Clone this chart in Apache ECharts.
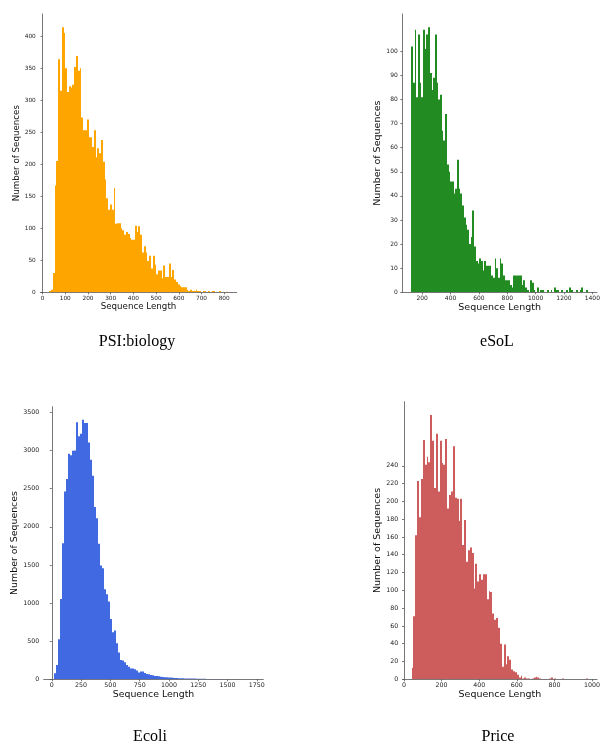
<!DOCTYPE html>
<html>
<head>
<meta charset="utf-8">
<script src="https://cdn.jsdelivr.net/npm/echarts@6/dist/echarts.min.js"></script>
<style>
html,body{margin:0;padding:0;background:#fff;}
#chart{width:603px;height:743px;}
</style>
</head>
<body>
<div id="chart"></div>
<script>
// ---------- DATA ----------
// PSI:biology histogram
const psiBinStart = 29.5;
const psiBinWidth = 7.86;
const psiCounts = [2,4,30,167,205,364,315,414,405,350,
  313,322,320,324,352,369,346,350,273,253,
  253,270,242,242,227,253,211,225,217,238,
  204,176,147,129,137,129,163,107,108,108,
  100,97,90,94,91,85,82,82,104,94,
  103,90,62,72,62,49,57,37,57,43,
  28,34,34,22,42,24,24,45,24,35,
  20,16,12,10,8,8,8,4,2,4,
  2,2,4,2,2,0,2,2,0,2,
  0,2,2,0,0,2,0,0,0,1];
const psiXTicks = [0,100,200,300,400,500,600,700,800];
const psiYTicks = [0,50,100,150,200,250,300,350,400];

// eSoL histogram
const esolBinStart = 122;
const esolBinWidth = 12;
const esolCounts = [102,87,109,81,107,87,81,109,101,107,
  110,91,84,89,107,87,80,82,67,63,
  74,53,50,46,46,41,43,55,43,41,
  36,31,28,26,20,23,34,19,13,12,
  14,13,9,13,11,11,11,7,6,14,
  10,6,14,12,7,5,5,5,3,2,
  7,7,7,7,7,3,5,2,1,0,
  5,4,1,0,2,0,1,1,0,0,
  1,0,1,0,2,1,1,0,1,0,
  0,1,0,2,1,0,0,1,0,1,
  2,0,0,1];
const esolXTicks = [200,400,600,800,1000,1200,1400];
const esolYTicks = [0,10,20,30,40,50,60,70,80,90,100];

// Ecoli histogram
const ecoliBinStart = 15;
const ecoliBinWidth = 17.1;
const ecoliCounts = [79,188,525,1054,1785,2463,2625,2958,2936,2997,
  3000,3369,3185,3220,3404,3360,3360,3106,2879,2669,
  2258,2113,1776,1492,1457,1181,1116,1019,792,617,
  639,472,350,254,245,223,188,166,140,140,
  131,114,88,101,101,83,70,66,57,52,
  44,44,39,35,31,28,26,22,24,20,
  18,17,15,14,13,12,11,10,10,9,
  9,8,7,7,6,6,5,5,5,4,
  4,4,3,3,3,3,2,2,2,2,
  3,2,1,2,1,1,1,1,1,2];
const ecoliXTicks = [0,250,500,750,1000,1250,1500,1750];
const ecoliYTicks = [0,500,1000,1500,2000,2500,3000,3500];

// Price histogram
const priceBinStart = 40;
const priceBinWidth = 10;
const priceCounts = [13,71,162,223,182,225,269,241,250,244,
  297,268,215,276,211,268,243,241,270,192,
  207,211,262,204,203,178,203,151,179,132,
  145,148,142,102,130,110,118,112,118,118,
  90,99,98,74,67,69,58,40,14,39,
  17,26,22,11,9,8,5,2,4,1,
  2,1,1,0,1,2,3,2,1,0,
  0,0,0,1,2,0,1,0,0,0,
  1,0,0,0,0,0,0,0,0,0,
  0,0,0,1,0];
const priceXTicks = [0,200,400,600,800,1000];
const priceYTicks = [0,20,40,60,80,100,120,140,160,180,200,220,240];

const panelTitles = ['PSI:biology','eSoL','Ecoli','Price'];
const xAxisTitle = 'Sequence Length';
const yAxisTitle = 'Number of Sequences';

// ---------- BUILD ----------
function bins(start, width, counts){
  return counts.map((c,i)=>[start+i*width, start+(i+1)*width, c]);
}
const panels = [
  {data:bins(psiBinStart,psiBinWidth,psiCounts), color:'#FFA500', xt:psiXTicks, yt:psiYTicks,
   xmin:-10, xmax:855, ymax:434.7,
   grid:{left:40.3, top:14, width:196.4, height:278.3}, tick:5.8, name:8.7, xGap:9.5, yGap:19.5},
  {data:bins(esolBinStart,esolBinWidth,esolCounts), color:'#228B22', xt:esolXTicks, yt:esolYTicks,
   xmin:59.6, xmax:1432.4, ymax:115.5,
   grid:{left:402.3, top:14, width:196, height:278.3}, tick:6, name:9.5, xGap:9.5, yGap:19.5},
  {data:bins(ecoliBinStart,ecoliBinWidth,ecoliCounts), color:'#4169E1', xt:ecoliXTicks, yt:ecoliYTicks,
   xmin:-69, xmax:1805, ymax:3574,
   grid:{left:43.7, top:406.7, width:219.6, height:272.6}, tick:6.3, name:9.4, xGap:11, yGap:23},
  {data:bins(priceBinStart,priceBinWidth,priceCounts), color:'#CD5C5C', xt:priceXTicks, yt:priceYTicks,
   xmin:-7, xmax:1027, ymax:312,
   grid:{left:402.7, top:401.7, width:195.6, height:277.6}, tick:6.3, name:9.5, xGap:10, yGap:20}
];

const axisLineStyle = {color:'#555', width:0.8};
const plain = v => String(v);
const option = {
  animation:false,
  backgroundColor:'#fff',
  grid: panels.map(p=>Object.assign({containLabel:false}, p.grid)),
  xAxis: panels.map((p,i)=>({
    type:'value', gridIndex:i, min:p.xmin, max:p.xmax,
    name:xAxisTitle, nameLocation:'middle', nameGap:p.xGap,
    nameTextStyle:{fontFamily:'DejaVu Sans', fontSize:p.name, color:'#111'},
    axisLine:{show:true, lineStyle:axisLineStyle},
    axisTick:{show:true, length:2, lineStyle:axisLineStyle, customValues:p.xt},
    axisLabel:{customValues:p.xt, formatter:plain, fontFamily:'DejaVu Sans', fontSize:p.tick, color:'#222', margin:3},
    splitLine:{show:false}
  })),
  yAxis: panels.map((p,i)=>({
    type:'value', gridIndex:i, min:0, max:p.ymax,
    name:yAxisTitle, nameLocation:'middle', nameGap:p.yGap,
    nameTextStyle:{fontFamily:'DejaVu Sans', fontSize:p.name, color:'#111'},
    axisLine:{show:true, lineStyle:axisLineStyle},
    axisTick:{show:true, length:2, lineStyle:axisLineStyle, customValues:p.yt},
    axisLabel:{customValues:p.yt, formatter:plain, fontFamily:'DejaVu Sans', fontSize:p.tick, color:'#222', margin:4.5},
    splitLine:{show:false}
  })),
  series: panels.map((p,i)=>({
    type:'custom', xAxisIndex:i, yAxisIndex:i,
    itemStyle:{color:p.color},
    encode:{x:[0,1], y:2},
    data:p.data,
    clip:true,
    renderItem:function(params, api){
      const a = api.coord([api.value(0), api.value(2)]);
      const b = api.coord([api.value(1), 0]);
      const x0 = Math.round(a[0]), x1 = Math.round(b[0]);
      return {type:'rect', shape:{x:x0, y:a[1], width:Math.max(x1-x0,1), height:b[1]-a[1]},
        style:{fill:api.visual('color')}};
    }
  })),
  graphic: [
    {type:'text', x:137, y:342, style:{text:panelTitles[0], font:'16px "Liberation Serif"', fill:'#000', textAlign:'center', textVerticalAlign:'middle'}},
    {type:'text', x:497, y:342, style:{text:panelTitles[1], font:'16px "Liberation Serif"', fill:'#000', textAlign:'center', textVerticalAlign:'middle'}},
    {type:'text', x:150, y:737, style:{text:panelTitles[2], font:'16px "Liberation Serif"', fill:'#000', textAlign:'center', textVerticalAlign:'middle'}},
    {type:'text', x:498, y:737, style:{text:panelTitles[3], font:'16px "Liberation Serif"', fill:'#000', textAlign:'center', textVerticalAlign:'middle'}}
  ]
};
const chart = echarts.init(document.getElementById('chart'), null, {renderer:'canvas'});
chart.setOption(option);
</script>
</body>
</html>
